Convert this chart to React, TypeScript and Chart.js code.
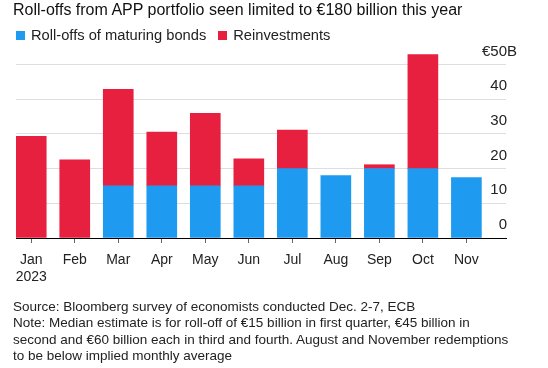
import React, { useEffect, useRef } from "react";
import { Chart, registerables } from "chart.js";

Chart.register(...registerables);

const titleText = "Roll-offs from APP portfolio seen limited to €180 billion this year";
const seriesNames = ["Roll-offs of maturing bonds", "Reinvestments"];
const months = ["Jan", "Feb", "Mar", "Apr", "May", "Jun", "Jul", "Aug", "Sep", "Oct", "Nov"];
const yearLabel = "2023";
const rollOffs: (number | null)[] = [null, null, 15, 15, 15, 15, 20, 18, 20, 20, 17.4];
const reinvestments: (number | null)[] = [29.3, 22.5, 27.8, 15.5, 20.9, 7.8, 11.1, null, 1.1, 32.8, null];
const yTicks = [0, 10, 20, 30, 40, 50];
const footerLines = [
  "Source: Bloomberg survey of economists conducted Dec. 2-7, ECB",
  "Note: Median estimate is for roll-off of €15 billion in first quarter, €45 billion in",
  "second and €60 billion each in third and fourth. August and November redemptions",
  "to be below implied monthly average",
];

const BLUE = "#1e9bf0";
const RED = "#e8203f";
const FONT = "'Liberation Sans', Arial, Helvetica, sans-serif";

export default function App() {
  const canvasRef = useRef<HTMLCanvasElement | null>(null);

  useEffect(() => {
    if (!canvasRef.current) return;
    Chart.defaults.font.family = FONT;

    const yLabelPlugin = {
      id: "yLabels",
      afterDraw(chart: any) {
        const ctx = chart.ctx;
        const ys = chart.scales.y;
        const right = chart.chartArea.right + 1;
        ctx.save();
        ctx.font = `15px ${FONT}`;
        ctx.fillStyle = "#222";
        ctx.textBaseline = "middle";
        yTicks.forEach((v, i) => {
          const py = ys.getPixelForValue(v) - 13;
          const last = i === yTicks.length - 1;
          ctx.textAlign = "right";
          ctx.fillText(last ? `€${v}` : `${v}`, right, py);
          if (last) {
            ctx.textAlign = "left";
            ctx.fillText("B", right, py);
          }
        });
        ctx.restore();
      },
    };

    const chart = new Chart(canvasRef.current, {
      type: "bar",
      data: {
        datasets: [
          {
            label: seriesNames[0],
            data: months.map((_, i) => ({ x: i, y: rollOffs[i] })) as any,
            backgroundColor: BLUE,
            barThickness: 30,
          },
          {
            label: seriesNames[1],
            data: months.map((_, i) => ({ x: i, y: reinvestments[i] })) as any,
            backgroundColor: RED,
            barThickness: 30,
          },
        ],
      },
      options: {
        animation: false,
        responsive: false,
        maintainAspectRatio: false,
        devicePixelRatio: 1,
        layout: { padding: { left: 16, top: 47, right: 0, bottom: 0 } },
        plugins: {
          legend: { display: false },
          title: { display: false },
          tooltip: { enabled: false },
        },
        scales: {
          x: {
            type: "linear",
            stacked: true,
            offset: false,
            bounds: "data",
            min: -0.35,
            max: 10.91,
            afterBuildTicks: (scale: any) => {
              scale.ticks = months.map((_, i) => ({ value: i }));
            },
            afterFit: (scale: any) => {
              scale.height = 62;
            },
            ticks: {
              autoSkip: false,
              maxRotation: 0,
              padding: 8,
              color: "#222",
              font: { size: 14, lineHeight: 1.25 },
              callback: (value: any) => {
                const i = Math.round(Number(value));
                return i === 0 ? [months[0], yearLabel] : months[i];
              },
            },
            grid: {
              drawOnChartArea: false,
              drawTicks: true,
              tickLength: 5,
              tickColor: "#666",
              offset: false,
            },
            border: { display: true, color: "#000", width: 1 },
          },
          y: {
            type: "linear",
            position: "right",
            stacked: true,
            min: 0,
            max: 55,
            afterBuildTicks: (scale: any) => {
              scale.ticks = yTicks.map((v) => ({ value: v }));
            },
            afterFit: (scale: any) => {
              scale.width = 42;
            },
            ticks: { display: false },
            grid: {
              drawTicks: false,
              color: (c: any) => (c.tick && c.tick.value === 0 ? "rgba(0,0,0,0)" : "#dedede"),
              lineWidth: 1,
            },
            border: { display: false },
          },
        },
      },
      plugins: [yLabelPlugin],
    } as any);

    return () => chart.destroy();
  }, []);

  return (
    <div
      style={{
        position: "absolute",
        left: 0,
        top: 0,
        width: 548,
        height: 368,
        background: "#fff",
        fontFamily: FONT,
        color: "#222",
        overflow: "hidden",
      }}
    >
      <canvas
        ref={canvasRef}
        width={548}
        height={300}
        style={{ position: "absolute", left: 0, top: 0, width: 548, height: 300 }}
      />
      <div
        style={{
          position: "absolute",
          left: 13,
          top: 1,
          fontSize: 16,
          lineHeight: "18px",
          color: "#111",
          whiteSpace: "nowrap",
        }}
      >
        {titleText}
      </div>
      <div
        style={{
          position: "absolute",
          left: 16,
          top: 26,
          height: 18,
          display: "flex",
          alignItems: "center",
          fontSize: 14.7,
          lineHeight: "18px",
          whiteSpace: "nowrap",
        }}
      >
        <span style={{ width: 9, height: 9, background: BLUE, display: "inline-block", marginRight: 6 }} />
        <span style={{ marginRight: 12 }}>{seriesNames[0]}</span>
        <span style={{ width: 9, height: 9, background: RED, display: "inline-block", marginRight: 6 }} />
        <span>{seriesNames[1]}</span>
      </div>
      <div
        style={{
          position: "absolute",
          left: 13,
          top: 299,
          fontSize: 13.5,
          lineHeight: "16.3px",
          whiteSpace: "nowrap",
        }}
      >
        {footerLines.map((l, i) => (
          <div key={i}>{l}</div>
        ))}
      </div>
    </div>
  );
}
